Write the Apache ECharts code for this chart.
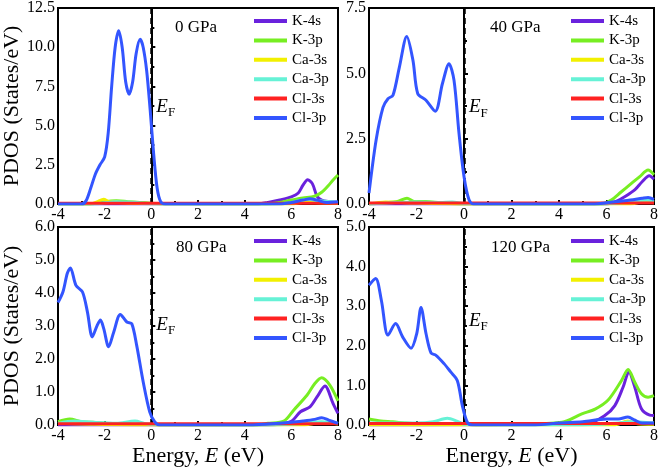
<!DOCTYPE html>
<html><head><meta charset="utf-8">
<script src="https://cdn.jsdelivr.net/npm/echarts@6/dist/echarts.min.js"></script>
<style>html,body{margin:0;padding:0;background:#fff}#c{width:661px;height:469px}</style>
</head><body><div id="c"></div>
<script>
// ---- data ----
var orbitals = ['K-4s', 'K-3p', 'Ca-3s', 'Ca-3p', 'Cl-3s', 'Cl-3p'];
var pressures = ['0 GPa', '40 GPa', '80 GPa', '120 GPa'];
var xTicks = [-4, -2, 0, 2, 4, 6, 8];
var yMax = [12.5, 7.5, 6.0, 5.0];
var yStep = [2.5, 2.5, 1.0, 1.0];
var efLevel = [6.1, 3.65, 3.0, 2.6];

// 0 GPa
var K4s_0 = [[-4,0],[4.5,0],[5,0.1],[5.5,0.25],[6,0.45],[6.3,0.7],[6.5,1.2],[6.7,1.55],[6.9,1.3],[7.1,0.5],[7.3,0.25],[7.6,0.15],[8,0.1]];
var K3p_0 = [[-4,0],[-2.6,0],[-2.2,0.1],[-1.5,0.2],[-1,0.15],[-0.5,0.1],[0,0.05],[0.5,0],[4.8,0],[5.5,0.1],[6,0.25],[6.5,0.38],[7,0.5],[7.3,0.75],[7.6,1.2],[7.8,1.55],[8,1.85]];
var Ca3s_0 = [[-4,0],[-2.6,0],[-2.3,0.15],[-2.05,0.3],[-1.8,0.15],[-1.4,0.1],[-1,0.05],[0,0.02],[6,0],[6.7,0.15],[7,0.1],[8,0.05]];
var Ca3p_0 = [[-4,0],[-2.5,0],[-1.5,0.15],[-1,0.12],[-0.5,0.08],[0,0.02],[5,0],[6,0.1],[6.7,0.3],[7.2,0.2],[8,0.1]];
var Cl3s_0 = [[-4,0.04],[0,0.04],[4,0.04],[8,0.04]];
var Cl3p_0 = [[-4,0],[-3.0,0],[-2.8,0.2],[-2.6,1.0],[-2.4,1.9],[-2.2,2.5],[-2.0,3.0],[-1.85,4.5],[-1.7,7.5],[-1.55,10.0],[-1.4,11.05],[-1.25,10.0],[-1.1,7.8],[-0.95,7.0],[-0.8,7.8],[-0.65,9.6],[-0.48,10.5],[-0.35,10.0],[-0.2,8.5],[-0.05,6.0],[0.1,3.2],[0.25,1.0],[0.4,0.15],[0.6,0],[5.5,0],[6,0.1],[6.5,0.25],[6.8,0.33],[7.1,0.25],[7.5,0.1],[8,0.15]];

// 40 GPa
var K4s_40 = [[-4,0],[6,0],[6.4,0.1],[6.8,0.3],[7.2,0.55],[7.5,0.85],[7.8,1.08],[8,0.95]];
var K3p_40 = [[-4,0],[-3.3,0.05],[-2.8,0.1],[-2.4,0.22],[-2.1,0.1],[-1.6,0.1],[-1,0.05],[0,0],[5.8,0],[6.2,0.15],[6.6,0.45],[7,0.75],[7.4,1.05],[7.75,1.3],[8,1.12]];
var Ca3s_40 = [[-4,0],[-3.3,0.08],[-2.5,0.05],[0,0],[7,0],[7.6,0.1],[8,0.05]];
var Ca3p_40 = [[-4,0],[-3,0.05],[-2,0.08],[-1,0.06],[-0.5,0.08],[0,0.02],[6,0],[7,0.08],[7.7,0.15],[8,0.1]];
var Cl3s_40 = [[-4,0.04],[0,0.04],[4,0.04],[8,0.04]];
var Cl3p_40 = [[-4,0.42],[-3.7,2.45],[-3.41,3.7],[-3.2,4.03],[-2.99,4.16],[-2.72,5.24],[-2.41,6.41],[-2.15,5.5],[-1.95,4.23],[-1.6,3.97],[-1.21,3.55],[-0.91,4.6],[-0.63,5.37],[-0.42,4.73],[-0.21,2.7],[0,1.05],[0.21,0.16],[0.4,0],[5.5,0],[6,0.05],[6.5,0.1],[7,0.15],[7.5,0.22],[7.75,0.25],[8,0.18]];

// 80 GPa
var K4s_80 = [[-4,0],[5,0],[5.97,0.1],[6.39,0.4],[6.8,0.55],[7.1,0.85],[7.44,1.18],[7.79,0.65],[8,0.35]];
var K3p_80 = [[-4,0.1],[-3.5,0.18],[-3,0.1],[-2.5,0.08],[-2,0.05],[-1,0.03],[0,0.02],[0.5,0],[4.5,0],[5,0.05],[5.68,0.12],[6.1,0.45],[6.67,0.9],[7,1.25],[7.3,1.43],[7.65,1.21],[8,0.73]];
var Ca3s_80 = [[-4,0.05],[-3,0.03],[0,0],[6.5,0],[7.3,0.08],[8,0.03]];
var Ca3p_80 = [[-4,0.05],[-3.3,0.12],[-2.5,0.08],[-1.5,0.05],[-0.7,0.12],[-0.3,0.05],[0,0.02],[5,0],[6.5,0.05],[7.3,0.1],[8,0.05]];
var Cl3s_80 = [[-4,0.04],[0,0.04],[4,0.04],[8,0.04]];
var Cl3p_80 = [[-4,3.71],[-3.79,4.03],[-3.6,4.6],[-3.47,4.76],[-3.23,4.23],[-2.95,4.03],[-2.74,3.43],[-2.53,2.67],[-2.32,3.02],[-2.18,3.18],[-2.04,2.92],[-1.83,2.37],[-1.61,2.82],[-1.33,3.35],[-1.05,3.12],[-0.84,3.07],[-0.63,2.42],[-0.35,1.31],[-0.07,0.4],[0.14,0.1],[0.35,0],[4,0],[5,0.03],[6,0.08],[6.5,0.12],[7,0.17],[7.3,0.22],[7.6,0.15],[8,0.05]];

// 120 GPa
var K4s_120 = [[-4,0],[5.24,0.05],[5.93,0.24],[6.35,0.49],[6.7,0.96],[6.94,1.34],[7.19,0.96],[7.47,0.41],[7.82,0.25],[8,0.24]];
var K3p_120 = [[-4,0.15],[-3.5,0.1],[-3,0.08],[-2.5,0.05],[-2,0.03],[0,0.02],[0.5,0],[4.12,0.07],[4.96,0.28],[5.52,0.4],[6.07,0.63],[6.63,1.12],[6.91,1.4],[7.19,1.08],[7.47,0.79],[7.75,0.7],[8,0.74]];
var Ca3s_120 = [[-4,0],[6.3,0],[6.9,0.1],[7.3,0.03],[8,0.02]];
var Ca3p_120 = [[-4,0.05],[-2,0.05],[-1.3,0.08],[-0.7,0.17],[-0.3,0.1],[0,0.02],[5,0],[6.5,0.05],[7,0.08],[8,0.05]];
var Cl3s_120 = [[-4,0.04],[0,0.04],[4,0.04],[8,0.04]];
var Cl3p_120 = [[-4,3.53],[-3.72,3.7],[-3.48,3.15],[-3.2,2.27],[-2.88,2.56],[-2.58,2.22],[-2.23,1.94],[-1.99,2.31],[-1.81,2.97],[-1.6,2.31],[-1.39,1.82],[-1.18,1.76],[-0.84,1.55],[-0.56,1.34],[-0.28,1.12],[-0.07,0.49],[0.14,0.07],[0.35,0],[3,0],[4,0.05],[5,0.08],[6,0.15],[6.5,0.15],[6.9,0.2],[7.2,0.12],[7.5,0.05],[8,0.05]];

var panelData = [
  [K4s_0, K3p_0, Ca3s_0, Ca3p_0, Cl3s_0, Cl3p_0],
  [K4s_40, K3p_40, Ca3s_40, Ca3p_40, Cl3s_40, Cl3p_40],
  [K4s_80, K3p_80, Ca3s_80, Ca3p_80, Cl3s_80, Cl3p_80],
  [K4s_120, K3p_120, Ca3s_120, Ca3p_120, Cl3s_120, Cl3p_120]
];

// ---- styles ----
var colors = ['#6a22dd', '#77ee22', '#f2f000', '#66f2d6', '#ff2222', '#3355ff'];
var FONT = 'Liberation Serif';
var serifRich = function (size) {
  return {a: {fontFamily: FONT, fontSize: size, color: '#000'}};
};
var grids = [
  {left: 53, top: 7, width: 285, height: 197},
  {left: 369, top: 7, width: 287, height: 197},
  {left: 53, top: 227, width: 285, height: 198},
  {left: 369, top: 227, width: 287, height: 198}
];

var chart = echarts.init(document.getElementById('c'), null, {renderer: 'canvas'});
var option = {
  animation: false,
  backgroundColor: '#fff',
  textStyle: {fontFamily: FONT, color: '#000'},
  grid: grids.map(function (g) {
    return Object.assign({show: true, borderColor: '#000', borderWidth: 2, backgroundColor: 'transparent', containLabel: false}, g);
  }),
  xAxis: grids.map(function (g, i) {
    return {
      type: 'value', gridIndex: i, min: xTicks[0], max: xTicks[xTicks.length - 1], interval: 2,
      axisLine: {show: true, onZero: false, lineStyle: {color: '#000', width: 2}},
      axisTick: {show: true, inside: true, length: 4, lineStyle: {color: '#000', width: 2}},
      minorTick: {show: true, splitNumber: 2, length: 3, lineStyle: {color: '#000', width: 2}},
      splitLine: {show: false},
      axisLabel: {color: '#000', fontFamily: FONT, fontSize: 16, margin: 3,
        formatter: function (v) { return '{a|' + v + '}'; }, rich: serifRich(16)},
      name: i >= 2 ? 'Energy, {i|E} (eV)' : '',
      nameLocation: 'middle', nameGap: 13,
      nameTextStyle: {color: '#000', fontFamily: FONT, fontSize: 22,
        rich: {i: {fontFamily: FONT, fontSize: 22, fontStyle: 'italic', color: '#000'}}}
    };
  }),
  yAxis: grids.map(function (g, i) {
    return {
      type: 'value', gridIndex: i, min: 0, max: yMax[i], interval: yStep[i],
      axisLine: {show: true, lineStyle: {color: '#000', width: 2}},
      axisTick: {show: true, inside: true, length: 4, lineStyle: {color: '#000', width: 2}},
      minorTick: {show: true, splitNumber: 2, length: 3, lineStyle: {color: '#000', width: 2}},
      splitLine: {show: false},
      axisLabel: {color: '#000', fontFamily: FONT, fontSize: 16, margin: 3,
        formatter: function (v) { return '{a|' + v.toFixed(1) + '}'; }, rich: serifRich(16)},
      name: (i % 2 === 0) ? 'PDOS (States/eV)' : '',
      nameLocation: 'middle', nameGap: 35,
      nameTextStyle: {color: '#000', fontFamily: FONT, fontSize: 22}
    };
  }),
  legend: grids.map(function (g, i) {
    return {
      data: orbitals, orient: 'vertical',
      left: (i % 2 === 0) ? 254 : 571, top: g.top + 6,
      padding: 0, itemGap: 3.4, itemWidth: 33, itemHeight: 4, icon: 'rect',
      formatter: function (n) { return '{a|' + n + '}'; },
      textStyle: {color: '#000', fontFamily: FONT, fontSize: 15, lineHeight: 16, rich: serifRich(15)},
      selectedMode: false
    };
  }),
  graphic: grids.map(function (g, i) {
    return {
      type: 'text', left: (i % 2 === 0 ? 175 : 490) + (i >= 2 ? 1 : 0), top: g.top + 12,
      style: {text: pressures[i], fill: '#000', font: '17px "Liberation Serif"'}
    };
  }),
  series: []
};

panelData.forEach(function (arrs, p) {
  arrs.forEach(function (d, k) {
    var s = {
      name: orbitals[k], type: 'line', xAxisIndex: p, yAxisIndex: p,
      data: d, smooth: 0.3, showSymbol: false, symbol: 'none',
      lineStyle: {width: 3, color: colors[k]}, itemStyle: {color: colors[k]},
      z: 2 + k
    };
    if (k === 4) {
      s.markLine = {
        silent: true, symbol: 'none', label: {show: false},
        lineStyle: {color: '#000', width: 2.5, type: [6, 4]},
        data: [{xAxis: 0}]
      };
      s.markPoint = {
        silent: true, symbol: 'circle', symbolSize: 0,
        label: {show: true, position: 'right', distance: 5,
          formatter: '{e|E}{f|F}',
          rich: {
            e: {fontFamily: FONT, fontSize: 19, fontStyle: 'italic', color: '#000', verticalAlign: 'bottom', padding: [0, 0, 3, 0]},
            f: {fontFamily: FONT, fontSize: 13, color: '#000', verticalAlign: 'bottom'}
          }},
        data: [{coord: [0, efLevel[p]]}]
      };
    }
    option.series.push(s);
  });
});

chart.setOption(option);
</script>
</body></html>
